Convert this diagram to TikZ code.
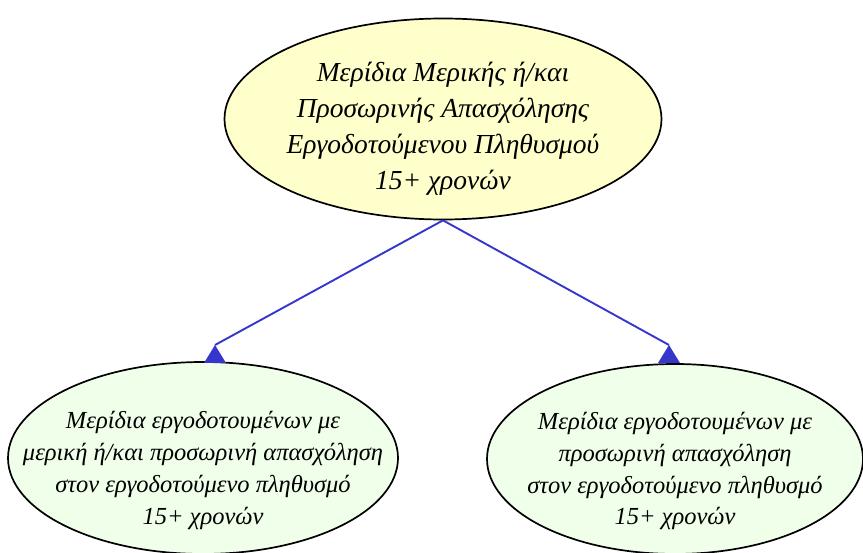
\documentclass[tikz,border=0pt]{standalone}
\usepackage{fontspec}
\setmainfont{Liberation Serif}
\usepackage{tikz}
\usetikzlibrary{shapes.geometric}
\definecolor{cream}{HTML}{FFFFCC}
\definecolor{mint}{HTML}{EFFFE9}
\definecolor{royal}{HTML}{3636CC}

\begin{document}
\begin{tikzpicture}[x=1pt,y=-1pt,
  bubble/.style={ellipse,draw=black,line width=1.7pt,inner xsep=-70pt,inner ysep=-45pt,align=center,text depth=10pt},
  link/.style={royal,line width=1.9pt}]
\useasboundingbox (0,0) rectangle (863,553);
\node[bubble,fill=cream,minimum width=437,minimum height=201,text height=152pt,
  font=\itshape\fontsize{27.5}{36}\selectfont] (total) at (443,119)
  {Μερίδια Μερικής ή/και\\Προσωρινής Απασχόλησης\\Εργοδοτούμενου Πληθυσμού\\15+ χρονών};
\node[bubble,fill=mint,minimum width=390,minimum height=192,text height=142pt,
  font=\itshape\fontsize{24.5}{32}\selectfont] (mixed) at (203,458)
  {Μερίδια εργοδοτουμένων με\\μερική ή/και προσωρινή απασχόληση\\στον εργοδοτούμενο πληθυσμό\\15+ χρονών};
\node[bubble,fill=mint,minimum width=376,minimum height=190,text height=142pt,
  font=\itshape\fontsize{24.5}{32}\selectfont] (temp) at (675,459)
  {Μερίδια εργοδοτουμένων με\\προσωρινή απασχόληση\\στον εργοδοτούμενο πληθυσμό\\15+ χρονών};
\coordinate (mixedtip) at (215,345);
\coordinate (temptip) at (669,345);
\draw[link] (total.south) -- (mixedtip);
\draw[link] (total.south) -- (temptip);
\foreach \t in {mixedtip,temptip}{
  \fill[royal] (\t) -- ++(-11,18) -- ++(22,0) -- cycle;}
\end{tikzpicture}
\end{document}
